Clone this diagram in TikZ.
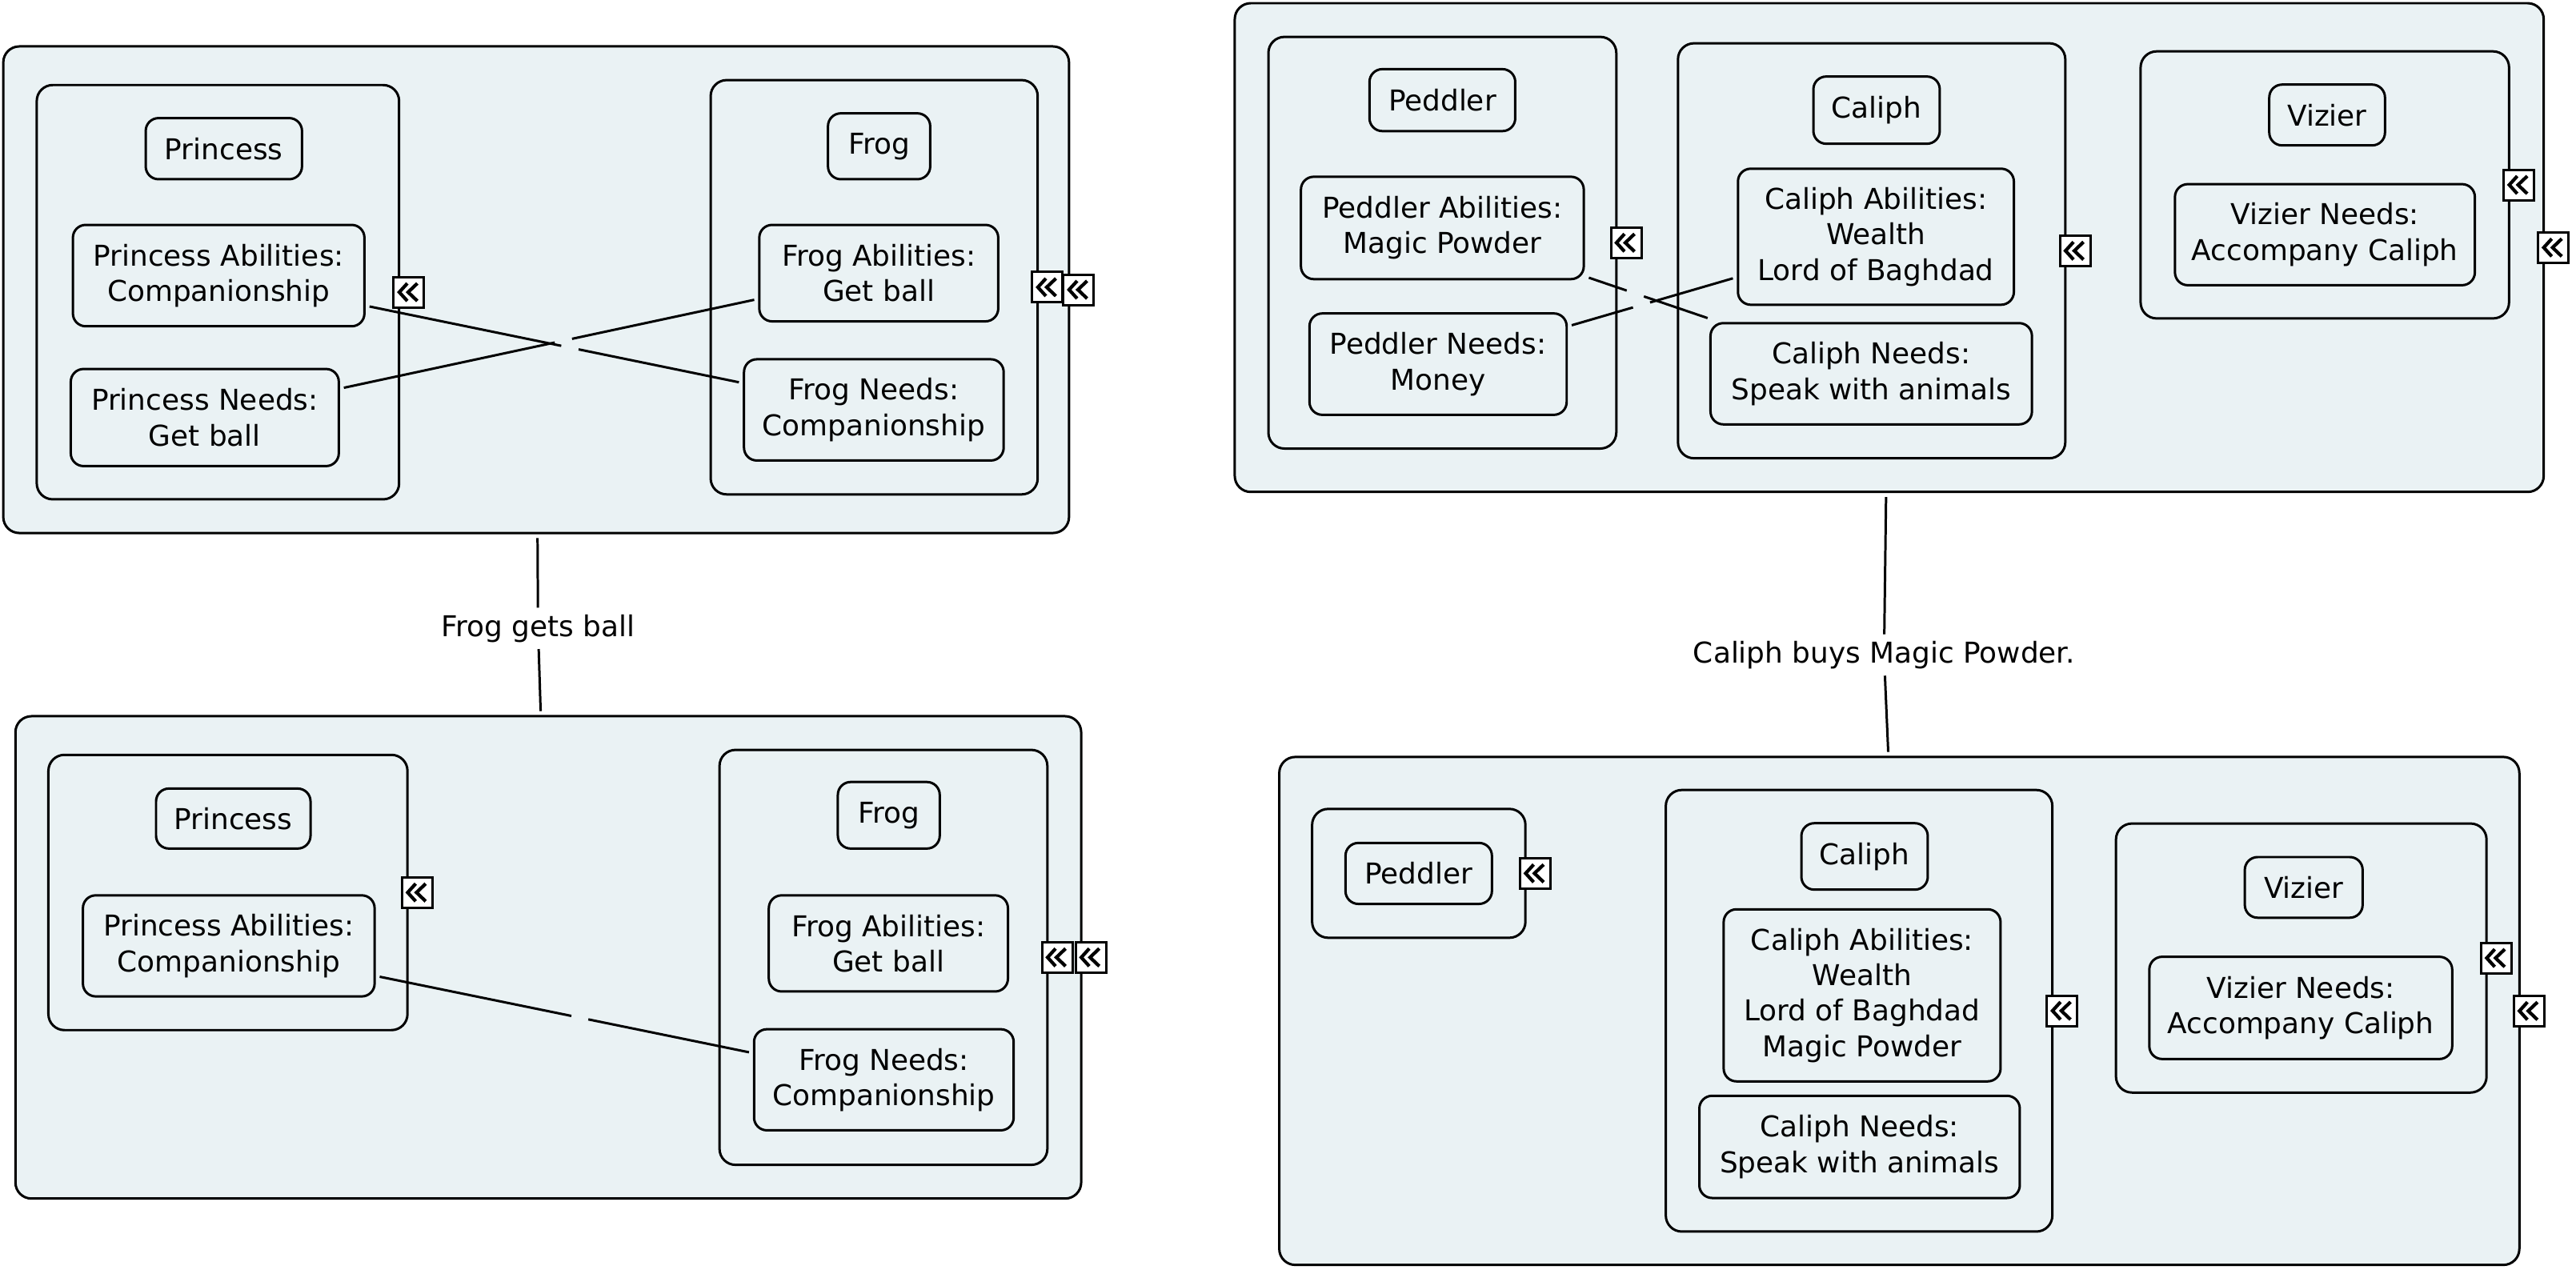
\documentclass[tikz,border=0pt]{standalone}
\usepackage{fontspec}
\setmainfont{DejaVu Sans}
\definecolor{panel}{RGB}{234,242,244}

% box from corner (x1,y1) to (x2,y2), in the picture's units
\newcommand\bx[7]{%
  \node[#1, minimum width={(#5-#3)*0.584113}, minimum height={(#6-#4)*0.584113}]
    (#2) at ({(#3+#5)/2},{(#4+#6)/2}) {#7};}

% collapse marker on the right edge of a container
\newcommand\fold[3]{%
  \node[iconbox] (#1) at (#2,#3) {};
  \draw[chev] ([shift={(-0.02cm,0.11cm)}]#1.center) -- ([shift={(-0.12cm,0cm)}]#1.center)
              -- ([shift={(-0.02cm,-0.11cm)}]#1.center);
  \draw[chev] ([shift={(0.105cm,0.11cm)}]#1.center) -- ([shift={(-0.01cm,0cm)}]#1.center)
              -- ([shift={(0.105cm,-0.11cm)}]#1.center);}

% connector with a short break along it
\newcommand\gaplink[4]{%
  \path (#1) -- (#2) coordinate[pos=#3] (#1-#2-a) coordinate[pos=#4] (#1-#2-b);
  \draw[link] (#1) -- (#1-#2-a);
  \draw[link] (#1-#2-b) -- (#2);}

\begin{document}
\begin{tikzpicture}[x=0.0205293cm, y=-0.0205293cm,
  txt/.style={font=\fontsize{10.2}{12.6}\selectfont, align=center},
  base/.style={txt, draw=black, line width=0.85pt, fill=panel, inner sep=0pt, outer sep=1.8pt},
  group/.style={base, rounded corners=0.2cm},
  holder/.style={base, rounded corners=0.2cm},
  item/.style={base, rounded corners=0.16cm},
  iconbox/.style={draw=black, fill=white, line width=0.85pt, minimum size=0.38cm, inner sep=0pt},
  chev/.style={line width=1.2pt},
  link/.style={line width=0.85pt},
  eventlabel/.style={txt, inner sep=1.6pt, outer sep=0.8pt}]
\useasboundingbox (0,0) rectangle (1568,772.6);

% ---------- Princess and Frog, before ----------
\bx{group}{tlG}{2.1}{28.3}{650.6}{324.4}{}
\bx{holder}{tlPc}{22.4}{51.8}{242.9}{303.9}{}
\bx{item}{tlP}{88.7}{71.9}{183.8}{109.1}{Princess}
\bx{item}{tlPA}{44.4}{136.9}{221.8}{198.6}{Princess Abilities:\\Companionship}
\bx{item}{tlPN}{43.1}{224.6}{206.2}{283.7}{Princess Needs:\\Get ball}
\bx{holder}{tlFc}{432.6}{48.8}{631.6}{300.9}{}
\bx{item}{tlF}{504}{69}{566.2}{109.1}{Frog}
\bx{item}{tlFA}{462.2}{136.9}{607.6}{195.6}{Frog Abilities:\\Get ball}
\bx{item}{tlFN}{452.9}{218.7}{610.9}{280.3}{Frog Needs:\\Companionship}
\gaplink{tlPA}{tlFN}{0.519}{0.566}
\gaplink{tlPN}{tlFA}{0.514}{0.556}

% ---------- Princess and Frog, after ----------
\bx{group}{blG}{9.5}{436}{658}{729.5}{}
\bx{holder}{blPc}{29.5}{459.5}{248}{627}{}
\bx{item}{blP}{95}{480}{189}{516.5}{Princess}
\bx{item}{blPA}{50.5}{545}{228}{606.5}{Princess Abilities:\\Companionship}
\bx{holder}{blFc}{438}{456.5}{637.5}{709}{}
\bx{item}{blF}{510}{476}{572}{516.5}{Frog}
\bx{item}{blFA}{468}{545}{613.5}{603.5}{Frog Abilities:\\Get ball}
\bx{item}{blFN}{459}{626.5}{617}{688}{Frog Needs:\\Companionship}
\gaplink{blPA}{blFN}{0.519}{0.565}

% ---------- Peddler, Caliph and Vizier, before ----------
\bx{group}{trG}{751.7}{2}{1548.2}{299.4}{}
\bx{holder}{trPc}{772.1}{22.5}{983.8}{273}{}
\bx{item}{trP}{833.6}{42.1}{922.3}{79.8}{Peddler}
\bx{item}{trPA}{791.9}{107.6}{964}{169.9}{Peddler Abilities:\\Magic Powder}
\bx{item}{trPN}{797.1}{190.8}{953.6}{252.5}{Peddler Needs:\\Money}
\bx{holder}{trCc}{1021.4}{26.4}{1257.1}{278.9}{}
\bx{item}{trC}{1103.8}{46.6}{1180.7}{87.5}{Caliph}
\bx{item}{trCA}{1057.9}{102.7}{1225.8}{185.5}{Caliph Abilities:\\Wealth\\Lord of Baghdad}
\bx{item}{trCN}{1041.2}{196.7}{1236.8}{258.3}{Caliph Needs:\\Speak with animals}
\bx{holder}{trVc}{1303}{31.3}{1527.2}{193.8}{}
\bx{item}{trV}{1381.3}{51.5}{1451.7}{88.5}{Vizier}
\bx{item}{trVN}{1323.9}{112.1}{1506.4}{173.6}{Vizier Needs:\\Accompany Caliph}
\gaplink{trPA}{trCN}{0.319}{0.464}
\gaplink{trPN}{trCA}{0.380}{0.486}

% ---------- Peddler, Caliph and Vizier, after ----------
\bx{group}{brG}{778.8}{460.8}{1533.4}{769.9}{}
\bx{holder}{brPc}{798.7}{492.4}{928.5}{570.8}{}
\bx{item}{brP}{819}{513.1}{908.1}{550.2}{Peddler}
\bx{holder}{brCc}{1014}{480.9}{1249.2}{749.6}{}
\bx{item}{brC}{1096.5}{501.1}{1173.4}{541.5}{Caliph}
\bx{item}{brCA}{1049.2}{553.5}{1217.7}{658.2}{Caliph Abilities:\\Wealth\\Lord of Baghdad\\Magic Powder}
\bx{item}{brCN}{1034.4}{667}{1229.4}{729.2}{Caliph Needs:\\Speak with animals}
\bx{holder}{brVc}{1288}{501.3}{1513.5}{665}{}
\bx{item}{brV}{1366.4}{521.7}{1438.1}{558.6}{Vizier}
\bx{item}{brVN}{1308.3}{582.4}{1492.6}{644.6}{Vizier Needs:\\Accompany Caliph}

% ---------- events between the states ----------
\node[eventlabel] (evA) at (327.5,382.5) {Frog gets ball};
\draw[link] (tlG) -- (evA);
\draw[link] (evA) -- (blG);
\node[eventlabel] (evB) at (1146.8,398.7) {Caliph buys Magic Powder.};
\draw[link] (trG) -- (evB);
\draw[link] (evB) -- (brG);

% ---------- collapse markers ----------
\fold{tlPcF}{248.9}{177.85}
\fold{tlFcF}{637.6}{174.85}
\fold{tlGF}{656.6}{176.35}
\fold{blPcF}{254}{543.25}
\fold{blFcF}{643.5}{582.75}
\fold{blGF}{664}{582.75}
\fold{trPcF}{989.8}{147.75}
\fold{trCcF}{1263.1}{152.65}
\fold{trVcF}{1533.2}{112.55}
\fold{trGF}{1554.2}{150.7}
\fold{brPcF}{934.5}{531.6}
\fold{brCcF}{1255.2}{615.25}
\fold{brVcF}{1519.5}{583.15}
\fold{brGF}{1539.4}{615.35}
\end{tikzpicture}
\end{document}
